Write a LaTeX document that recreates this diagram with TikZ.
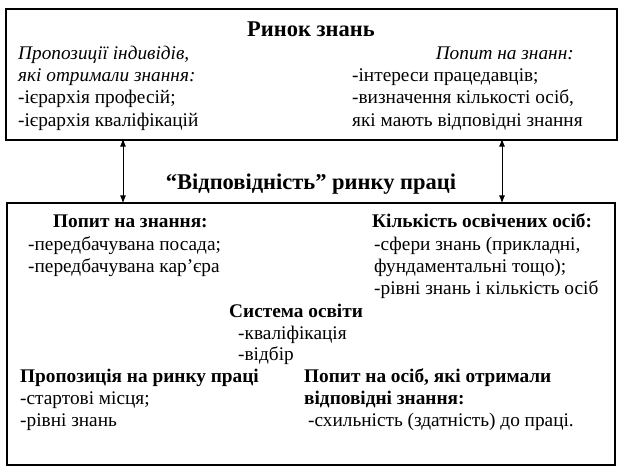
\documentclass[tikz,border=0pt]{standalone}
\usepackage{fontspec}
\setmainfont{Liberation Serif}
\usetikzlibrary{arrows.meta}
\begin{document}
\begin{tikzpicture}[x=1pt,y=-1pt,
  box/.style={draw,line width=1.2pt,inner sep=0pt},
  txt/.style={anchor=base west,inner sep=0pt,font=\fontsize{19.3}{22}\selectfont},
  btxt/.style={txt,font=\fontsize{19.3}{22}\selectfont\bfseries},
  itxt/.style={txt,font=\fontsize{19.3}{22}\selectfont\itshape},
  head/.style={txt,anchor=base,font=\fontsize{22.5}{26}\selectfont\bfseries},
  link/.style={line width=1pt,{Latex[length=8pt,width=6pt]}-{Latex[length=8pt,width=6pt]}}]
\useasboundingbox[fill=white] (0,0) rectangle (623,471);
% boxes
\node[box,minimum width=611pt,minimum height=131pt] (top) at (311.5,74.5) {};
\node[box,minimum width=608pt,minimum height=262pt] (bot) at (311,334) {};
% top box texts
\node[head] (t0) at (311,36) {Ринок знань};
\node[itxt] (t1) at (18,59) {Пропозиції індивідів,};
\node[itxt] (t2) at (18,81) {які отримали знання:};
\node[txt] (t3) at (18,103) {-ієрархія професій;};
\node[txt] (t4) at (18,126) {-ієрархія кваліфікацій};
\node[itxt,anchor=base east] (t5) at (574,59) {Попит на знанн:};
\node[txt] (t6) at (352,81) {-інтереси працедавців;};
\node[txt] (t7) at (352,103) {-визначення кількості осіб,};
\node[txt] (t8) at (352,126) {які мають відповідні знання};
% middle
\node[head] (mid) at (311,189) {“Відповідність” ринку праці};
\coordinate (a1) at (123,0);
\coordinate (a2) at (502,0);
\draw[link] ([yshift=2pt]top.south -| a1) -- ([yshift=-1pt]bot.north -| a1);
\draw[link] ([yshift=2pt]top.south -| a2) -- ([yshift=-1pt]bot.north -| a2);
% bottom box texts
\node[btxt] (b1) at (53,227) {Попит на знання:};
\node[txt] (b2) at (28,250) {-передбачувана посада;};
\node[txt] (b3) at (28,272) {-передбачувана кар’єра};
\node[btxt] (b4) at (372,227) {Кількість освічених осіб:};
\node[txt] (b5) at (374,250) {-сфери знань (прикладні,};
\node[txt] (b6) at (374,272) {фундаментальні тощо);};
\node[txt] (b7) at (374,294) {-рівні знань і кількість осіб};
\node[btxt] (b8) at (229,317) {Система освіти};
\node[txt] (b9) at (238,339) {-кваліфікація};
\node[txt] (b10) at (238,360) {-відбір};
\node[btxt] (b11) at (20,382) {Пропозиція на ринку праці};
\node[txt] (b12) at (20,404) {-стартові місця;};
\node[txt] (b13) at (20,426) {-рівні знань};
\node[btxt] (b14) at (304,382) {Попит на осіб, які отримали};
\node[btxt] (b15) at (304,404) {відповідні знання:};
\node[txt] (b16) at (308,426) {-схильність (здатність) до праці.};
\end{tikzpicture}
\end{document}
